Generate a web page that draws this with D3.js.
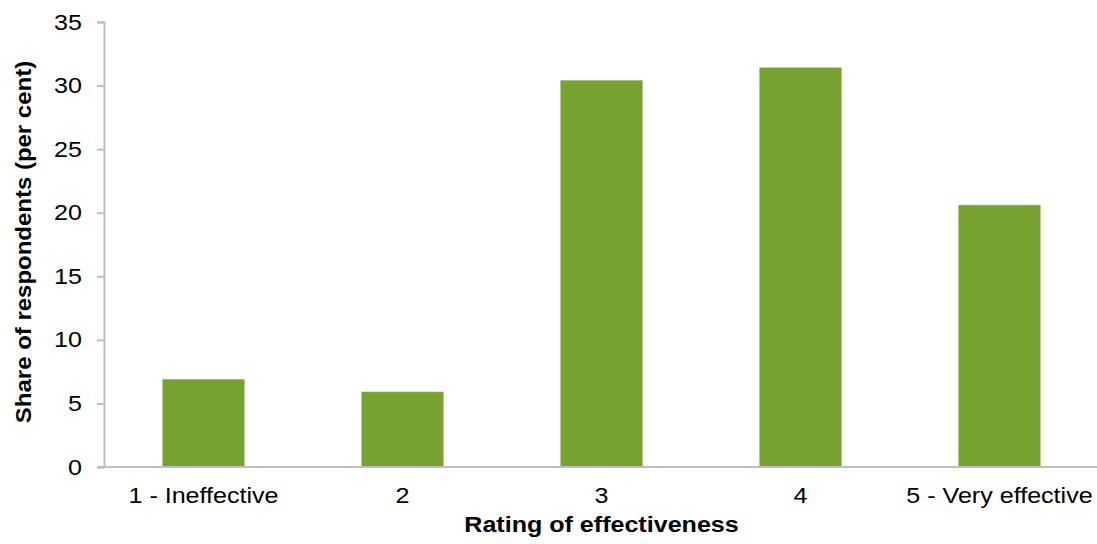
<!DOCTYPE html>
<html><head><meta charset="utf-8">
<script src="https://cdn.jsdelivr.net/npm/d3@7"></script>
<style>body{margin:0;background:#fff}svg{display:block}text{font-family:"Liberation Sans",Arial,sans-serif;fill:#000}</style>
</head><body><svg id="c" width="1097" height="544"></svg>
<script>
const categories = ["1 - Ineffective","2","3","4","5 - Very effective"];
const values = [6.9, 5.9, 30.4, 31.4, 20.6];
const yTicks = [0,5,10,15,20,25,30,35];
const xTitle = "Rating of effectiveness";
const yTitle = "Share of respondents (per cent)";

const svg = d3.select("#c");
const mLeft = 104, mRight = 1099, mTop = 22, mBottom = 467;
const fs = 22, sx = 1.14;
const x = d3.scaleBand().domain(categories).range([mLeft, mRight]).paddingInner(0.59).paddingOuter(0.295);
const y = d3.scaleLinear().domain([0,35]).range([mBottom, mTop]);

svg.selectAll("rect.bar").data(values).join("rect").attr("class","bar")
  .attr("x",(d,i)=>x(categories[i])).attr("width",x.bandwidth())
  .attr("y",d=>y(d)).attr("height",d=>y(0)-y(d))
  .attr("fill","#78a22f").attr("stroke","#9dc066").attr("stroke-width",0.6);

const ya = svg.append("g").attr("transform",`translate(${mLeft},0)`)
  .call(d3.axisLeft(y).tickValues(yTicks).tickSize(7).tickPadding(12.3));
ya.select(".domain").attr("stroke","#bfbfbf").attr("stroke-width",2);
ya.selectAll(".tick line").attr("stroke","#bfbfbf").attr("stroke-width",2);
ya.selectAll(".tick text").attr("font-size",fs).attr("font-family","Liberation Sans, Arial, sans-serif").attr("fill","#000")
  .attr("transform",`scale(${sx},1)`);

const xa = svg.append("g").attr("transform",`translate(0,${mBottom})`)
  .call(d3.axisBottom(x).tickSize(0).tickPadding(20.4));
xa.select(".domain").attr("stroke","#bfbfbf").attr("stroke-width",2).attr("d",`M${mLeft-7},0H${mRight}`);
xa.selectAll(".tick text").attr("font-size",fs).attr("font-family","Liberation Sans, Arial, sans-serif").attr("fill","#000")
  .attr("transform",`scale(${sx},1)`);

svg.append("text").attr("transform",`translate(${(mLeft+mRight)/2},532) scale(${sx},1)`).attr("text-anchor","middle")
  .attr("font-size",fs).attr("font-weight","bold").text(xTitle);
svg.append("text").attr("transform",`translate(31,242) rotate(-90) scale(1.09,1)`).attr("text-anchor","middle")
  .attr("font-size",fs).attr("font-weight","bold").text(yTitle);
</script></body></html>
